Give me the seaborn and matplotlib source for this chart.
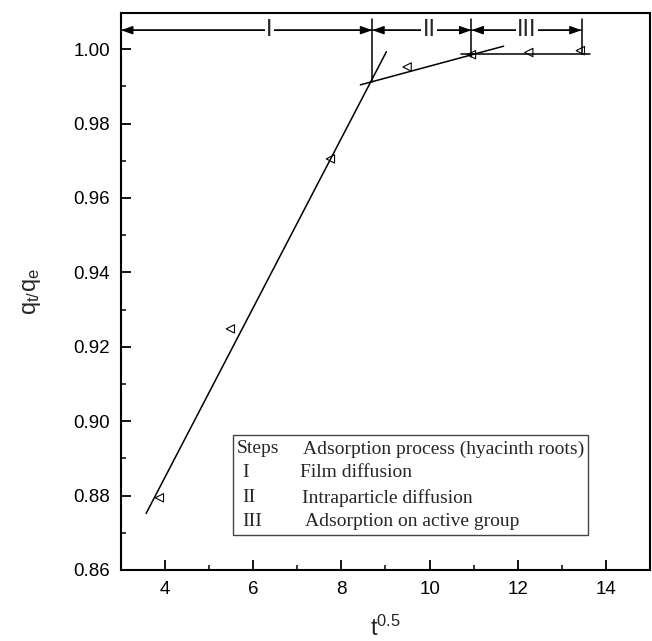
import matplotlib
matplotlib.use("Agg")
import matplotlib.pyplot as plt
from matplotlib.patches import Rectangle
from matplotlib.ticker import MultipleLocator
import seaborn as sns
import pandas as pd

# ---- data ----
t_sqrt = [3.87, 5.48, 7.75, 9.49, 10.95, 12.25, 13.42]
qt_qe = [0.8794, 0.9248, 0.9705, 0.9952, 0.9985, 0.9991, 0.9996]

line1_x = [3.57, 9.02]
line1_y = [0.8752, 0.9993]
line2_x = [8.43, 11.68]
line2_y = [0.9904, 1.0008]
line3_x = [10.71, 13.65]
line3_y = [0.9987, 0.9987]

step_bounds = [3.0, 8.70, 10.95, 13.45]
step_labels = ["I", "II", "III"]
step_label_x = [6.37, 9.99, 12.21]
divider_bottom = [0.9912, 0.9980, 0.9988]

table_rows = [
    ("Steps", "Adsorption process (hyacinth roots)"),
    ("I", "Film diffusion"),
    ("II", "Intraparticle diffusion"),
    ("III", "Adsorption on active group"),
]

sns.set_style("ticks")
plt.rcParams["font.family"] = ["Liberation Sans", "DejaVu Sans"]
plt.rcParams["mathtext.fontset"] = "custom"
plt.rcParams["mathtext.rm"] = "Liberation Sans"

fig = plt.figure(figsize=(6.52, 6.41), dpi=100)
ax = fig.add_axes([0.1856, 0.1108, 0.8113, 0.8694])

df = pd.DataFrame({"x": t_sqrt, "y": qt_qe})
sns.scatterplot(data=df, x="x", y="y", marker="<", s=36, facecolor="none",
                edgecolor="black", linewidth=0.8, ax=ax, zorder=4)

for lx, ly in [(line1_x, line1_y), (line2_x, line2_y), (line3_x, line3_y)]:
    sns.lineplot(x=lx, y=ly, color="black", lw=1.1, ax=ax, sort=False,
                 estimator=None)

arrow_y = 1.0051
top_y = 1.0080
for i in range(3):
    x0, x1 = step_bounds[i], step_bounds[i + 1]
    for a, b in [(x0, x1), (x1, x0)]:
        ax.annotate("", xy=(a, arrow_y), xytext=(b, arrow_y),
                    arrowprops=dict(arrowstyle="-|>,head_length=0.7,head_width=0.25",
                                    color="black", lw=1.0, shrinkA=0, shrinkB=0))
    ax.text(step_label_x[i], arrow_y, step_labels[i], ha="center", va="center",
            fontsize=17, family="Liberation Sans", zorder=5,
            bbox=dict(facecolor="white", edgecolor="none", pad=1.2))
for xb, yb in zip(step_bounds[1:], divider_bottom):
    ax.plot([xb, xb], [yb, top_y], color="black", lw=1.1)

# table box
ax.add_patch(Rectangle((5.54, 0.8694), 13.6 - 5.54, 0.8963 - 0.8694,
                       facecolor="white", edgecolor="#444444", lw=1.0, zorder=3))
row_y = [0.89253, 0.88608, 0.87935, 0.87290]
col1_x = [5.63, 5.74, 5.74, 5.74]
col2_x = [7.12, 7.06, 7.10, 7.17]
for (a, b), yy, x1, x2 in zip(table_rows, row_y, col1_x, col2_x):
    ax.text(x1, yy, a, ha="left", va="center", fontsize=14,
            family="Liberation Serif", zorder=4)
    ax.text(x2, yy, b, ha="left", va="center", fontsize=14,
            family="Liberation Serif", zorder=4)

ax.set_xlim(3, 15)
ax.set_ylim(0.86, 1.0098)
ax.xaxis.set_minor_locator(MultipleLocator(1))
ax.yaxis.set_minor_locator(MultipleLocator(0.01))
ax.set_xticks([4, 6, 8, 10, 12, 14])
yt = [0.86, 0.88, 0.90, 0.92, 0.94, 0.96, 0.98, 1.00]
ax.set_yticks(yt)
ax.set_yticklabels([f"{v:.2f}" for v in yt])
ax.tick_params(which="major", direction="in", length=7, width=1.3,
               labelsize=13.5, pad=8, colors="black")
ax.tick_params(which="minor", direction="in", length=3.6, width=1.3)
ax.tick_params(top=False, right=False, which="both")
for sp in ax.spines.values():
    sp.set_visible(True)
    sp.set_linewidth(1.5)
    sp.set_color("black")

ax.set_xlabel(r"$\mathregular{t^{0.5}}$", fontsize=17, labelpad=13)
ax.set_ylabel(r"$\mathregular{q_{t/}q_e}$", fontsize=17, labelpad=22)

fig.savefig("out.png", dpi=100)
